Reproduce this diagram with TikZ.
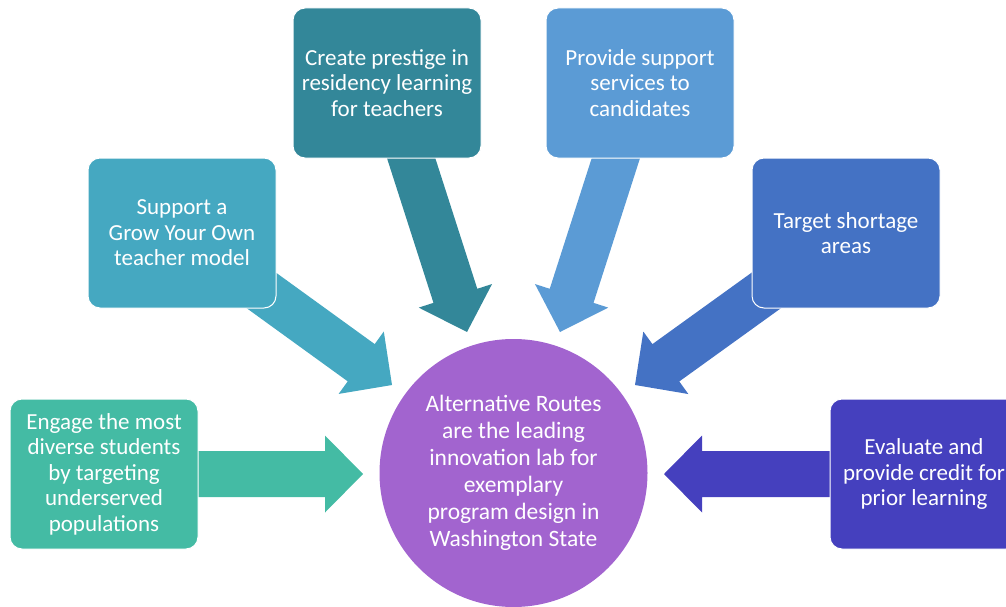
\documentclass[tikz,border=0pt]{standalone}
\usepackage{fontspec}
\setmainfont{Carlito}
\usetikzlibrary{calc}
\definecolor{cEng}{HTML}{44BBA4}
\definecolor{cGrow}{HTML}{45A8C1}
\definecolor{cPres}{HTML}{338799}
\definecolor{cProv}{HTML}{5B9BD5}
\definecolor{cTarg}{HTML}{4472C4}
\definecolor{cEval}{HTML}{4540BE}
\definecolor{cCirc}{HTML}{A264CF}
\newcommand{\blockarrow}[4]{%
  \coordinate (#4h) at ($(#3)!38pt!(#2)$);
  \fill[#1] ($(#2)!23pt!90:(#3)$) -- ($(#4h)!23pt!-90:(#2)$) -- ($(#4h)!38.5pt!-90:(#2)$) -- (#3)
    -- ($(#4h)!38.5pt!90:(#2)$) -- ($(#4h)!23pt!90:(#2)$) -- ($(#2)!23pt!-90:(#3)$) -- cycle;
}
\tikzset{
  boxnode/.style={rectangle, rounded corners=12pt, draw=white, line width=1pt,
    minimum width=188pt, minimum height=150pt, inner sep=0pt, text=white,
    align=center, font=\fontsize{23}{25.5}\selectfont},
  hubnode/.style={circle, fill=cCirc, minimum size=268pt, inner sep=0pt, text=white,
    align=center, font=\fontsize{23.5}{27}\selectfont}
}
\begin{document}
\begin{tikzpicture}[x=1pt,y=-1pt]
\useasboundingbox (0,0) rectangle (1006,607);
\clip (0,0) rectangle (1006,607);
% named anchor coordinates
\coordinate (engC) at (104,474);
\coordinate (growC) at (182,233);
\coordinate (presC) at (387,83);
\coordinate (provC) at (640,83);
\coordinate (targC) at (846,233);
\coordinate (evalC) at (924,474);
\coordinate (engT) at (363,474);
\coordinate (growT) at (392,385);
\coordinate (presT) at (467,332);
\coordinate (provT) at (560,332);
\coordinate (targT) at (635,385);
\coordinate (evalT) at (664,474);
% arrows (behind boxes)
\blockarrow{cEng}{engC}{engT}{engA}
\blockarrow{cGrow}{growC}{growT}{growA}
\blockarrow{cPres}{presC}{presT}{presA}
\blockarrow{cProv}{provC}{provT}{provA}
\blockarrow{cTarg}{targC}{targT}{targA}
\blockarrow{cEval}{evalC}{evalT}{evalA}
% hub
\node[hubnode] (hub) at (513.5,473) {Alternative Routes\\are the leading\\innovation lab for\\exemplary\\program design in\\Washington State};
% boxes
\node[boxnode, fill=cEng] (eng) at (engC) {Engage the most\\diverse students\\by targeting\\underserved\\populations};
\node[boxnode, fill=cGrow] (grow) at (growC) {Support a\\Grow Your Own\\teacher model};
\node[boxnode, fill=cPres] (pres) at (presC) {Create prestige in\\residency learning\\for teachers};
\node[boxnode, fill=cProv] (prov) at (provC) {Provide support\\services to\\candidates};
\node[boxnode, fill=cTarg] (targ) at (targC) {Target shortage\\areas};
\node[boxnode, fill=cEval] (eval) at (evalC) {Evaluate and\\provide credit for\\prior learning};
\end{tikzpicture}
\end{document}
